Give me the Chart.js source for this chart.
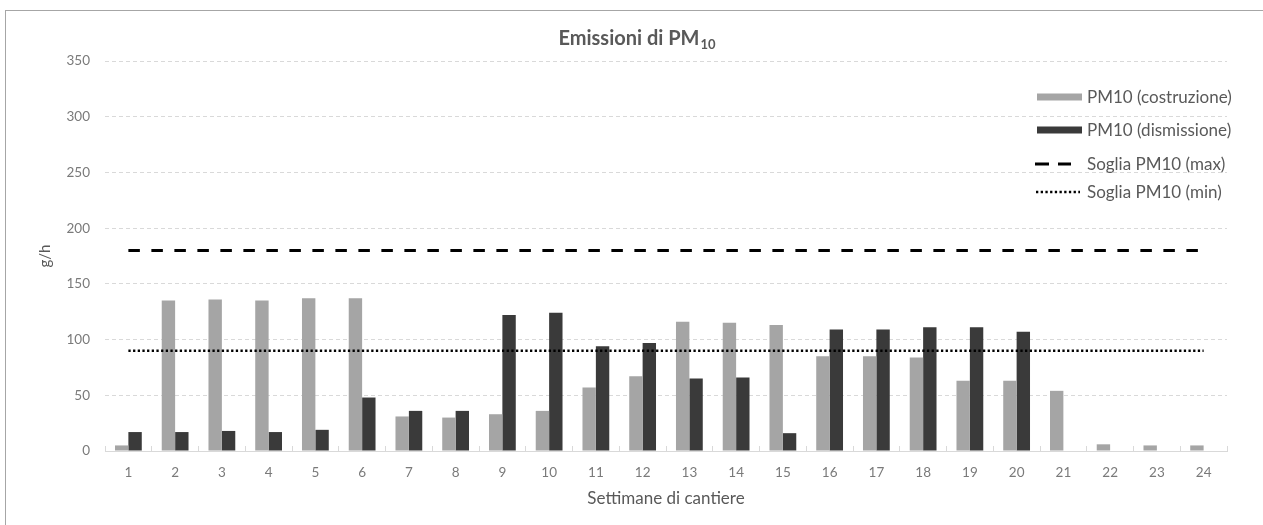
<!DOCTYPE html>
<html>
<head>
<meta charset="utf-8">
<script src="https://cdn.jsdelivr.net/npm/chart.js@4.4.0/dist/chart.umd.min.js"></script>
<style>
  html, body { margin: 0; padding: 0; background: #fff; }
  canvas { display: block; }
</style>
</head>
<body>
<canvas id="chart" width="1263" height="525"></canvas>
<script>
// Emissioni di PM10 - chart recreation

// Data
const weeks = ['1', '2', '3', '4', '5', '6', '7', '8', '9', '10', '11', '12',
    '13', '14', '15', '16', '17', '18', '19', '20', '21', '22', '23', '24'];
const pm10Costruzione = [5, 135, 136, 135, 137, 137, 31, 30, 33, 36, 57, 67,
    116, 115, 113, 85, 85, 84, 63, 63, 54, 6, 5, 5];
const pm10Dismissione = [17, 17, 18, 17, 19, 48, 36, 36, 122, 124, 94, 97,
    65, 66, 16, 109, 109, 111, 111, 107, null, null, null, null];
const sogliaMax = [180, 180, 180, 180, 180, 180, 180, 180, 180, 180, 180, 180,
    180, 180, 180, 180, 180, 180, 180, 180, 180, 180, 180, 180];
const sogliaMin = [90, 90, 90, 90, 90, 90, 90, 90, 90, 90, 90, 90,
    90, 90, 90, 90, 90, 90, 90, 90, 90, 90, 90, 90];
const yTicks = [0, 50, 100, 150, 200, 250, 300, 350];

// Styles
const FONT = 'Lato, "Noto Sans", sans-serif';
const TEXT = '#595959';
const TICK_TEXT = '#7a7a7a';
const GRID = '#d9d9d9';
const LIGHT = '#a5a5a5';
const DARK = '#3a3a3a';

const legendItems = [
    { text: 'PM10 (costruzione)', kind: 'box', color: LIGHT },
    { text: 'PM10 (dismissione)', kind: 'box', color: DARK },
    { text: 'Soglia PM10 (max)', kind: 'dash' },
    { text: 'Soglia PM10 (min)', kind: 'dot' }
];

// Frame + title with subscript + legend inside the plot area
const decorPlugin = {
    id: 'decor',
    beforeDraw(chart) {
        const ctx = chart.ctx;
        ctx.save();
        ctx.fillStyle = '#fff';
        ctx.fillRect(0, 0, chart.width, chart.height);
        ctx.strokeStyle = '#a6a6a6';
        ctx.lineWidth = 1;
        ctx.strokeRect(5.5, 10.5, chart.width + 20, chart.height + 20);
        ctx.restore();
    },
    afterDraw(chart) {
        const ctx = chart.ctx;
        const area = chart.chartArea;
        ctx.save();

        // Title
        const main = 'Emissioni di PM';
        const sub = '10';
        ctx.fillStyle = TEXT;
        ctx.textBaseline = 'alphabetic';
        ctx.font = 'bold 20px ' + FONT;
        const wMain = ctx.measureText(main).width;
        ctx.font = 'bold 13px ' + FONT;
        const wSub = ctx.measureText(sub).width;
        const cx = chart.width / 2 + 5;
        const x0 = cx - (wMain + wSub) / 2;
        ctx.font = 'bold 20px ' + FONT;
        ctx.fillText(main, x0, 45);
        ctx.font = 'bold 13px ' + FONT;
        ctx.fillText(sub, x0 + wMain + 1, 49);

        // Legend
        const rows = [97, 130, 164, 192];
        const sx = area.right - 190;
        const tx = area.right - 140;
        ctx.font = '17px ' + FONT;
        ctx.textBaseline = 'middle';
        legendItems.forEach((item, i) => {
            const y = rows[i];
            if (item.kind === 'box') {
                ctx.fillStyle = item.color;
                ctx.fillRect(sx, y - 3.5, 45, 7);
            } else {
                ctx.strokeStyle = '#000';
                ctx.beginPath();
                if (item.kind === 'dash') {
                    ctx.lineWidth = 3;
                    ctx.setLineDash([14, 9]);
                    ctx.moveTo(sx - 2, y);
                    ctx.lineTo(sx + 34, y);
                } else {
                    ctx.lineWidth = 2.5;
                    ctx.setLineDash([2.3, 2.4]);
                    ctx.moveTo(sx - 1, y);
                    ctx.lineTo(sx + 43, y);
                }
                ctx.stroke();
                ctx.setLineDash([]);
            }
            ctx.fillStyle = TEXT;
            ctx.fillText(item.text, tx, y + 1);
        });
        ctx.restore();
    }
};

const ctx = document.getElementById('chart').getContext('2d');
new Chart(ctx, {
    type: 'bar',
    data: {
        labels: weeks,
        datasets: [
            {
                label: 'PM10 (costruzione)',
                data: pm10Costruzione,
                backgroundColor: LIGHT,
                order: 2
            },
            {
                label: 'PM10 (dismissione)',
                data: pm10Dismissione,
                backgroundColor: DARK,
                order: 2
            },
            {
                type: 'line',
                label: 'Soglia PM10 (max)',
                data: sogliaMax,
                borderColor: '#000',
                borderWidth: 3,
                borderDash: [11.5, 11.5],
                pointRadius: 0,
                fill: false,
                order: 1
            },
            {
                type: 'line',
                label: 'Soglia PM10 (min)',
                data: sogliaMin,
                borderColor: '#000',
                borderWidth: 2.5,
                borderDash: [2.3, 2.37],
                pointRadius: 0,
                fill: false,
                order: 1
            }
        ]
    },
    options: {
        responsive: false,
        animation: false,
        events: [],
        datasets: {
            bar: { categoryPercentage: 0.573, barPercentage: 1 }
        },
        layout: { padding: { left: 5, top: 61, right: 36, bottom: 12 } },
        plugins: {
            legend: { display: false },
            title: { display: false },
            tooltip: { enabled: false }
        },
        scales: {
            x: {
                grid: {
                    drawOnChartArea: false,
                    drawTicks: true,
                    tickLength: -5,
                    color: GRID,
                    lineWidth: 1,
                    offset: true
                },
                border: { display: true, color: GRID, width: 1 },
                ticks: {
                    color: TICK_TEXT,
                    font: { family: FONT, size: 13.5 },
                    padding: 19,
                    maxRotation: 0,
                    autoSkip: false
                },
                title: {
                    display: true,
                    text: 'Settimane di cantiere',
                    color: TEXT,
                    font: { family: FONT, size: 17 },
                    padding: { top: 4, bottom: 4 }
                },
                afterFit(scale) { scale.height = 62; }
            },
            y: {
                min: 0,
                max: 350,
                afterBuildTicks(scale) {
                    scale.ticks = yTicks.map(v => ({ value: v }));
                },
                grid: {
                    color: GRID,
                    lineWidth: 1,
                    drawTicks: false
                },
                border: { display: false, dash: [4, 3] },
                ticks: {
                    color: TICK_TEXT,
                    font: { family: FONT, size: 13.5 },
                    padding: 15
                },
                title: {
                    display: true,
                    text: 'g/h',
                    color: TEXT,
                    font: { family: FONT, size: 15 },
                    padding: { top: 31, bottom: 0 }
                },
                afterFit(scale) { scale.width = 100; }
            }
        }
    },
    plugins: [decorPlugin]
});
</script>
</body>
</html>
